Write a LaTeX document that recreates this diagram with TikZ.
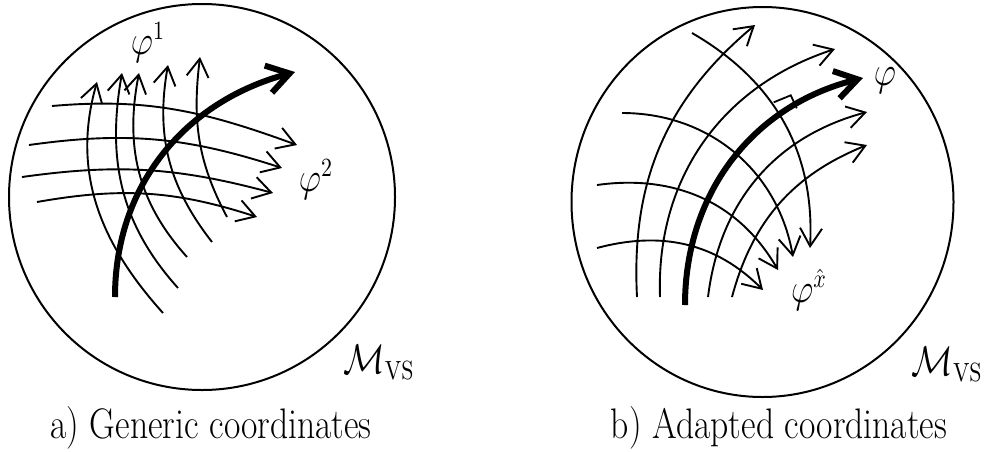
\documentclass[tikz,border=0pt]{standalone}
\usepackage{graphicx}
\usetikzlibrary{arrows.meta,intersections,calc}
\newcommand{\tallt}[1]{\scalebox{1}[1.2]{#1}}
\begin{document}
\begin{tikzpicture}[x=0.5pt,y=0.5pt,
  gridline/.style={line width=0.95pt,-{Straight Barb[length=9pt,width=11pt]}},
  mainline/.style={line width=3pt,-{Straight Barb[length=11pt,width=14pt]}},
  rim/.style={line width=1pt},
  lab/.style={font=\fontsize{16}{19}\selectfont, inner sep=0pt},
  caption/.style={font=\fontsize{17.8}{21}\selectfont, inner sep=0pt},
]
\useasboundingbox (0,0) rectangle (984,-451);

% ---------- left panel ----------
\draw[rim] (202,-197) circle[radius=193];
\draw[gridline] (52,-106) to[out=5,in=160] (297,-145);
\draw[gridline] (29,-145) to[out=8,in=162] (282,-168);
\draw[gridline] (22,-177) to[out=8,in=165] (273,-193);
\draw[gridline] (37,-202) to[out=10,in=162] (257,-217);
\draw[gridline] (163,-313) to[out=132,in=254] (97,-82);
\draw[gridline] (178,-288) to[out=132,in=260] (122,-73);
\draw[gridline] (187,-257) to[out=132,in=259] (139,-73);
\draw[gridline] (212,-242) to[out=128,in=260] (168,-65);
\draw[gridline] (227,-217) to[out=118,in=263] (200,-57);
\draw[mainline] (115,-297) to[out=90,in=195] (295,-72);

\node[lab] (phi1) at (148,-43) {\tallt{$\varphi^1$}};
\node[lab] (phi2) at (316,-180) {\tallt{$\varphi^2$}};
\node[lab,anchor=base west] (mvsL) at (343,-373) {\tallt{$\mathcal{M}_{\mathrm{VS}}$}};
\node[caption,anchor=base] (capL) at (211,-438) {\tallt{a) Generic coordinates}};

% ---------- right panel ----------
\draw[rim] (762.5,-202) ellipse[x radius=191, y radius=195];
\draw[gridline] (637,-297) to[out=93,in=220] (755,-25);
\draw[gridline] (660,-297) to[out=92,in=198] (835,-49);
\draw[gridline] (708,-297) to[out=83,in=195] (867,-112);
\draw[gridline] (732,-297) to[out=75,in=202] (867,-145);
\draw[gridline, name path=hone] (692,-33) to[out=-30,in=87] (810,-248);
\draw[gridline] (622,-113) to[out=0,in=100] (793,-257);
\draw[gridline] (597,-185) to[out=8,in=120] (778,-270);
\draw[gridline] (597,-248) to[out=15,in=135] (763,-290);
\draw[mainline, name path=thick] (685,-305) to[out=90,in=194] (863,-78);
\path[name intersections={of=hone and thick, by=X}];
\draw[line width=0.9pt] ($(X)+(-6,13)$) -- ($(X)+(11,20)$) -- ($(X)+(17,7)$);

\node[lab] (phiR) at (885,-81) {\tallt{$\varphi$}};
\node[lab] (phixh) at (809,-290) {\tallt{$\varphi^{\hat{x}}$}};
\node[lab,anchor=base east] (mvsR) at (983,-375) {\tallt{$\mathcal{M}_{\mathrm{VS}}$}};
\node[caption,anchor=base] (capR) at (779,-438) {\tallt{b) Adapted coordinates}};
\end{tikzpicture}
\end{document}
